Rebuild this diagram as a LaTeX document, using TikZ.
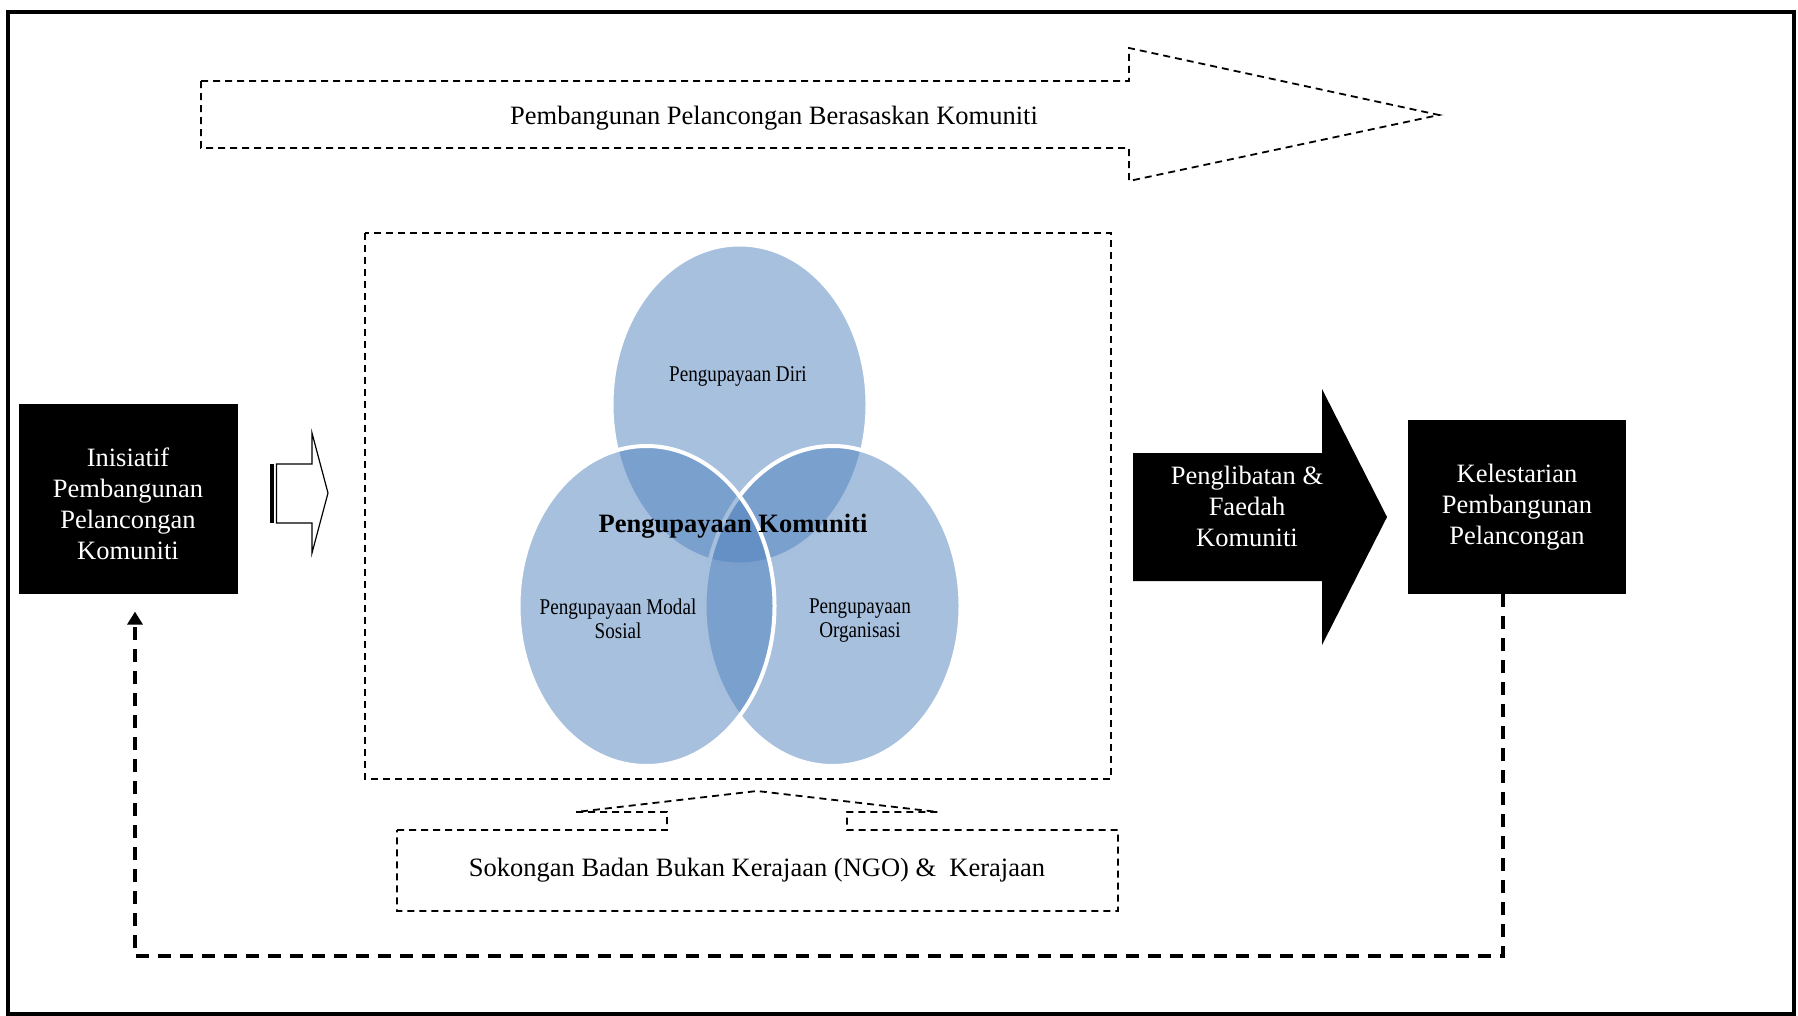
\documentclass[tikz,border=0pt]{standalone}
\usepackage{fontspec}
\setmainfont{Liberation Serif}
\newfontfamily\vennfont[FakeStretch=0.85]{Liberation Serif}
\usetikzlibrary{arrows.meta,calc}
\definecolor{vennblue}{HTML}{4F81BD}
\tikzset{
  thindash/.style={line width=0.9pt,dash pattern=on 3.5pt off 2.5pt},
  fbline/.style={line width=1.75pt,dash pattern=on 6.5pt off 4.5pt},
  txt/.style={align=center,font=\fontsize{13.25}{15.5}\selectfont},
  blkbox/.style={txt,fill=black,text=white,inner sep=0pt},
  venn/.style={fill=vennblue,fill opacity=0.5,draw=white,line width=2pt},
  vlabel/.style={align=center,font=\vennfont\fontsize{11.25}{12}\selectfont},
}
\begin{document}
\begin{tikzpicture}[x=0.5pt,y=-0.5pt]
\useasboundingbox (0,0) rectangle (1798,1016);
% frame
\draw[line width=2pt] (8,12) rectangle (1794,1014);
% top dashed arrow
\draw[thindash] (201,81) -- (1129,81) -- (1129,48) -- (1439,115)
 -- (1129,181) -- (1129,148) -- (201,148) -- cycle;
\node[txt] (cbt) at (774,118) {Pembangunan Pelancongan Berasaskan Komuniti};
% left box and striped arrow
\node[blkbox,minimum width=109.5pt,minimum height=95.2pt] (ini) at (128,499) {};
\node[txt,text=white] (initxt) at (128,503.5)
 {Inisiatif\\Pembangunan\\Pelancongan\\Komuniti};
\fill (269.5,464) rectangle (273.5,523);
\draw[line width=0.6pt] (276.5,464) -- (312,464) -- (312,433) -- (328,493)
 -- (312,553) -- (312,523) -- (276.5,523) -- cycle;
% middle frame with venn
\draw[thindash] (365,233) rectangle (1111,779);
\path[venn] (739.5,404.5) ellipse [x radius=128, y radius=160];
\path[venn] (832.5,606) ellipse [x radius=128, y radius=160];
\path[venn] (646.5,606) ellipse [x radius=128, y radius=160];
\node[vlabel] (diri) at (738,376) {Pengupayaan Diri};
\node[vlabel] (modal) at (618,619) {Pengupayaan Modal\\Sosial};
\node[vlabel] (org) at (860,621) {Pengupayaan\\Organisasi};
\node[txt,font=\bfseries\fontsize{13.25}{15.5}\selectfont] (kom) at (733,526)
 {Pengupayaan Komuniti};
% support callout
\draw[thindash] (397,830) -- (667,830) -- (667,812) -- (576,812) -- (757,791)
 -- (938,812) -- (847,812) -- (847,830) -- (1118,830) -- (1118,911)
 -- (397,911) -- cycle;
\node[txt] (ngo) at (757,870) {Sokongan Badan Bukan Kerajaan (NGO) \& \ Kerajaan};
% block arrow and right box
\fill (1133,453) -- (1322,453) -- (1322,389) -- (1387,517) -- (1322,645)
 -- (1322,581) -- (1133,581) -- cycle;
\node[txt,text=white] (pfk) at (1247,506) {Penglibatan \&\\Faedah\\Komuniti};
\node[blkbox,minimum width=109.25pt,minimum height=87pt] (kel) at (1517,507)
 {Kelestarian\\Pembangunan\\Pelancongan};
% feedback
\coordinate (fbR) at (1503,956);
\coordinate (fbL) at (135,956);
\draw[fbline,-{Triangle[width=7.5pt,length=6.5pt]}] (kel.south -| fbR) -- (fbR)
 -- (fbL) -- ($(ini.south -| fbL)+(0,17)$);
\end{tikzpicture}
\end{document}
